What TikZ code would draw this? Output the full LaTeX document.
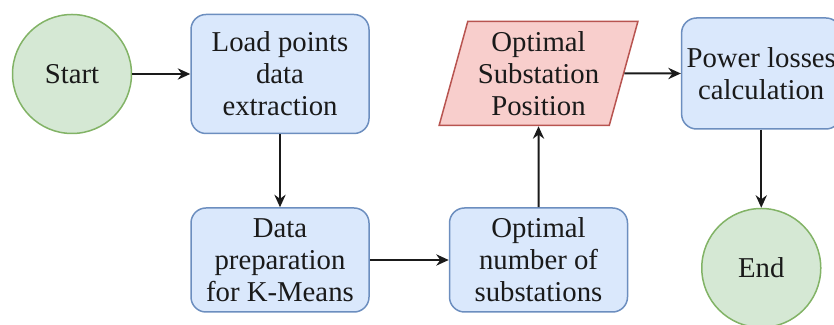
\documentclass[tikz,border=0pt]{standalone}
\usepackage{fontspec}
\setmainfont{Liberation Serif}
\usepackage{xcolor}
\usetikzlibrary{positioning,arrows.meta,shapes.geometric}
\definecolor{ink}      {HTML}{1A1A1A}
\definecolor{termfill} {HTML}{D5E8D4}
\definecolor{termline} {HTML}{82B366}
\definecolor{procfill} {HTML}{DAE8FC}
\definecolor{procline} {HTML}{6C8EBF}
\definecolor{outfill}  {HTML}{F8CECC}
\definecolor{outline}  {HTML}{B85450}

\begin{document}
\begin{tikzpicture}[
  font=\fontsize{11.5}{12.8}\selectfont, text=ink,
  stepbox/.style={draw=procline, line width=0.6pt, fill=procfill, rounded corners=6pt,
                  minimum width=71.2pt, minimum height=41.6pt, align=center, inner sep=2pt},
  term/.style={circle, draw=termline, line width=0.6pt, fill=termfill,
               minimum size=47.6pt, inner sep=0pt},
  result/.style={trapezium, trapezium left angle=74, trapezium right angle=106,
                 trapezium stretches=true, draw=outline, line width=0.6pt, fill=outfill,
                 minimum width=80pt, minimum height=41.6pt, align=center, inner sep=1pt},
  flow/.style={draw=ink, line width=0.8pt, -{Stealth[length=5pt, width=4.5pt]}}
]
\useasboundingbox (0,0) rectangle (333.6pt,-130pt);
\node[term] (start) at (28.8pt,-29.6pt) {Start};
\node[stepbox, minimum height=47.6pt, right=23.2pt of start] (load) {Load points\\ data\\ extraction};
\node[stepbox, below=29.2pt of load] (prep) {Data\\ preparation\\ for K-Means};
\node[stepbox, right=31.6pt of prep] (count) {Optimal\\ number of\\ substations};
\node[result, above=32.4pt of count] (position) {Optimal\\ Substation\\ Position};
\node[stepbox, minimum width=62.4pt, minimum height=44.4pt, right=22.6pt of position] (losses) {Power losses\\ calculation};
\node[term, below=31.2pt of losses] (end) {End};

\draw[flow] (start) -- (load);
\draw[flow] (load) -- (prep);
\draw[flow] (prep) -- (count);
\draw[flow] (count) -- (position);
\draw[flow] (position) -- (losses);
\draw[flow] (losses) -- (end);
\end{tikzpicture}
\end{document}
